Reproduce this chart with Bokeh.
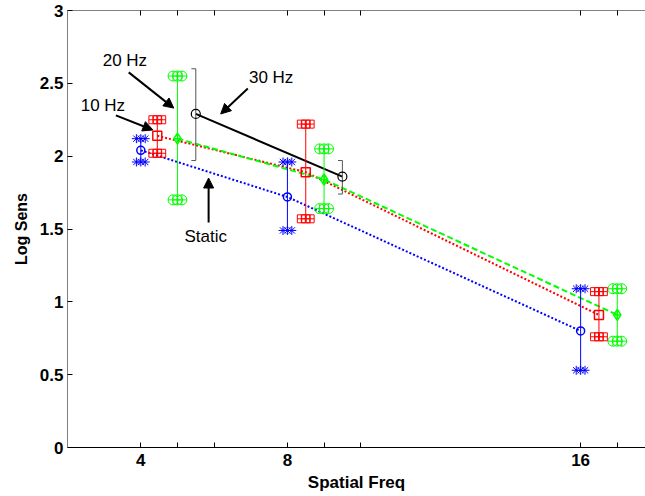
from bokeh.plotting import figure
from bokeh.models import Range1d, FixedTicker, LinearAxis, Arrow, NormalHead, Label
from bokeh.embed import file_html
from bokeh.resources import INLINE

# ---- data ----
static_x = [4, 8, 16]
static_y = [2.04, 1.72, 0.80]
static_hi = [2.12, 1.96, 1.09]
static_lo = [1.96, 1.49, 0.53]

hz10_x = [4.45, 8.5, 16.5]
hz10_y = [2.14, 1.89, 0.91]
hz10_hi = [2.25, 2.22, 1.07]
hz10_lo = [2.02, 1.57, 0.76]

hz20_x = [5, 9, 17]
hz20_y = [2.12, 1.84, 0.91]
hz20_hi = [2.55, 2.05, 1.09]
hz20_lo = [1.70, 1.64, 0.73]

hz30_x = [5.5, 9.5]
hz30_y = [2.29, 1.86]
hz30_hi = [2.60, 1.97]
hz30_lo = [1.97, 1.74]

x_label_ticks = [4, 8, 16]
x_label_texts = ["4", "8", "16"]
x_other_ticks = [5, 6, 9, 10, 17]
y_ticks = [0, 0.5, 1, 1.5, 2, 2.5, 3]
y_tick_labels = ["0", "0.5", "1", "1.5", "2", "2.5", "3"]

# annotation texts and anchor points (data units)
ann_text = ["20 Hz", "30 Hz", "10 Hz", "Static"]
ann_x = [2.96, 6.95, 2.36, 5.77]
ann_y = [2.66, 2.54, 2.35, 1.45]
ann_align = ["left", "left", "left", "center"]
arr_x0 = [3.67, 6.92, 3.32, 5.85]
arr_y0 = [2.575, 2.465, 2.28, 1.545]
arr_x1 = [4.90, 6.18, 4.33, 5.85]
arr_y1 = [2.33, 2.29, 2.18, 1.85]

FONT = "Liberation Sans"

p = figure(width=645, height=496, x_range=Range1d(2, 17.77), y_range=Range1d(0, 3),
           output_backend="svg", toolbar_location=None,
           min_border_left=67, min_border_right=0, min_border_top=10, min_border_bottom=49)
p.grid.visible = False
p.outline_line_color = None
p.background_fill_color = "white"

# axes
p.xaxis.ticker = FixedTicker(ticks=x_label_ticks, minor_ticks=x_other_ticks)
p.xaxis.major_label_overrides = {t: l for t, l in zip(x_label_ticks, x_label_texts)}
p.yaxis.ticker = FixedTicker(ticks=y_ticks)
p.yaxis.major_label_overrides = {t: l for t, l in zip(y_ticks, y_tick_labels)}
for ax in (p.xaxis[0], p.yaxis[0]):
    ax.major_tick_in = 5
    ax.major_tick_out = 0
    ax.minor_tick_in = 5
    ax.minor_tick_out = 0
    ax.minor_tick_line_color = "black"
    ax.major_label_text_font = FONT
    ax.major_label_text_font_style = "bold"
    ax.major_label_text_font_size = "17px"
    ax.major_label_text_color = "black"
    ax.axis_label_text_font = FONT
    ax.axis_label_text_font_style = "bold"
    ax.axis_label_text_color = "black"
    ax.major_tick_line_color = "black"
p.xaxis.axis_label_text_font_size = "17px"
p.yaxis.axis_label_text_font_size = "16px"
p.yaxis.minor_tick_line_color = None
p.xaxis.axis_label = "Spatial Freq"
p.yaxis.axis_label = "Log Sens"
p.xaxis.axis_line_color = "black"
p.yaxis.axis_line_color = "#808080"
p.xaxis.major_label_standoff = 6
p.xaxis.axis_label_standoff = 4
p.yaxis.major_label_standoff = 4
p.yaxis.axis_label_standoff = 7

top = LinearAxis(ticker=FixedTicker(ticks=[], minor_ticks=x_label_ticks + x_other_ticks),
                 major_tick_in=0, major_tick_out=0, minor_tick_in=5, minor_tick_out=0,
                 minor_tick_line_color="black", major_label_standoff=0,
                 axis_line_color="#808080")
p.add_layout(top, "above")

# ---- lines ----
p.line(static_x, static_y, line_color="blue", line_width=2, line_dash="2 2")
p.line(hz10_x, hz10_y, line_color="red", line_width=2, line_dash="2 2")
p.line(hz20_x, hz20_y, line_color="#00ff00", line_width=2, line_dash="6 3")
p.line(hz30_x, hz30_y, line_color="black", line_width=2)

# ---- error bars ----
p.segment(static_x, static_lo, static_x, static_hi, line_color="blue", line_width=1)
p.segment(hz10_x, hz10_lo, hz10_x, hz10_hi, line_color="red", line_width=1)
p.segment(hz20_x, hz20_lo, hz20_x, hz20_hi, line_color="#00ff00", line_width=1)
p.segment(hz30_x, hz30_lo, hz30_x, hz30_hi, line_color="#555555", line_width=1)
cap = 0.12
p.segment([x - cap for x in hz30_x], hz30_hi, hz30_x, hz30_hi, line_color="#555555", line_width=1)
p.segment([x - cap for x in hz30_x], hz30_lo, hz30_x, hz30_lo, line_color="#555555", line_width=1)

off = 0.12
for d in (-off, 0, off):
    p.scatter([x + d for x in static_x], static_hi, marker="asterisk", size=9, line_color="blue", line_width=1)
    p.scatter([x + d for x in static_x], static_lo, marker="asterisk", size=9, line_color="blue", line_width=1)
    p.scatter([x + d for x in hz10_x], hz10_hi, marker="square_cross", size=8, fill_color=None, line_color="red", line_width=1)
    p.scatter([x + d for x in hz10_x], hz10_lo, marker="square_cross", size=8, fill_color=None, line_color="red", line_width=1)
    p.scatter([x + d for x in hz20_x], hz20_hi, marker="circle_cross", size=10, fill_color=None, line_color="#00ff00", line_width=1)
    p.scatter([x + d for x in hz20_x], hz20_lo, marker="circle_cross", size=10, fill_color=None, line_color="#00ff00", line_width=1)

# ---- means ----
p.scatter(static_x, static_y, marker="circle", size=8, fill_color=None, line_color="blue", line_width=1.5)
p.scatter(hz10_x, hz10_y, marker="square", size=9, fill_color=None, line_color="red", line_width=1.5)
p.scatter(hz20_x, hz20_y, marker="diamond_cross", size=11, fill_color=None, line_color="#00ff00", line_width=1.5)
p.scatter(hz30_x, hz30_y, marker="circle", size=9, fill_color=None, line_color="black", line_width=1.2)

# ---- annotations ----
for t, x, y, a in zip(ann_text, ann_x, ann_y, ann_align):
    p.add_layout(Label(x=x, y=y, text=t, text_font=FONT, text_font_size="17px",
                       text_align=a, text_baseline="middle", text_color="black"))
for x0, y0, x1, y1 in zip(arr_x0, arr_y0, arr_x1, arr_y1):
    p.add_layout(Arrow(end=NormalHead(size=10, fill_color="black", line_color="black"),
                       x_start=x0, y_start=y0, x_end=x1, y_end=y1,
                       line_color="black", line_width=2))

open("out.html", "w").write(file_html(p, INLINE))
